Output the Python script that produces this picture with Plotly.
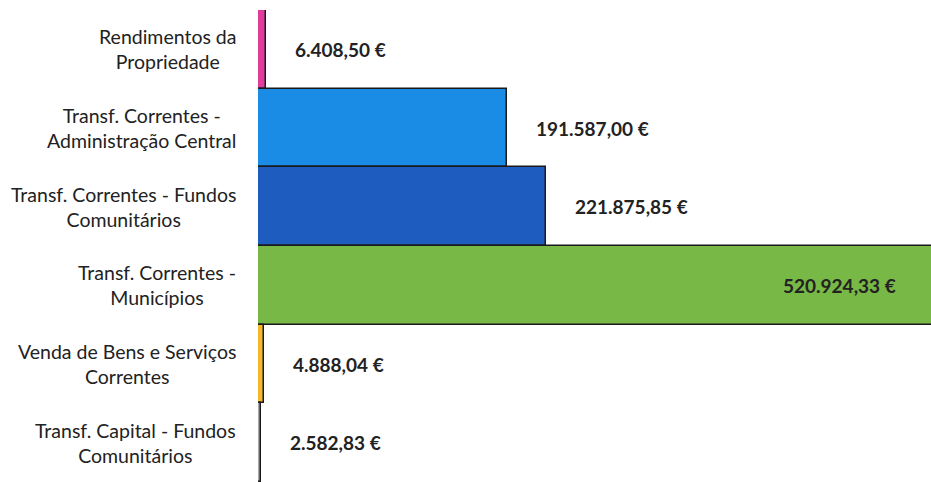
import plotly.graph_objects as go

# categorias (de cima para baixo) e valores em euros
categorias = [
    "Rendimentos da<br>Propriedade",
    "Transf. Correntes -<br>Administração Central",
    "Transf. Correntes - Fundos<br>Comunitários",
    "Transf. Correntes -<br>Municípios",
    "Venda de Bens e Serviços<br>Correntes",
    "Transf. Capital - Fundos<br>Comunitários",
]
valores = [6408.50, 191587.00, 221875.85, 520924.33, 4888.04, 2582.83]
rotulos = ["6.408,50 €", "191.587,00 €", "221.875,85 €", "520.924,33 €", "4.888,04 €", "2.582,83 €"]
cores = ["#e03c9c", "#1a8ce6", "#1f5cbf", "#78b846", "#f5b82a", "#a8a8a8"]

fig = go.Figure(go.Bar(
    x=valores,
    y=categorias,
    orientation="h",
    marker=dict(color=cores, line=dict(color="#1a1a1a", width=1.5)),
    hoverinfo="skip",
))

# rótulos de valor
for cat, v, txt in zip(categorias, valores, rotulos):
    dentro = v > 500000
    fig.add_annotation(
        x=v, y=cat, text="<b>" + txt + "</b>", showarrow=False,
        xanchor="right" if dentro else "left",
        xshift=-37 if dentro else 27,
        font=dict(family="Lato", size=19, color="#222222"),
    )

# nomes das categorias, centrados linha a linha
for cat in categorias:
    fig.add_annotation(
        x=0, xref="paper", y=cat, text=cat, showarrow=False,
        xanchor="right", xshift=-20, align="center",
        font=dict(family="Lato", size=19.5, color="#222222"),
    )

# a figura é mais larga que a janela para a barra verde sair cortada à direita
fig.update_layout(
    width=950, height=482,
    margin=dict(l=258, r=0, t=10, b=0),
    paper_bgcolor="white", plot_bgcolor="white",
    bargap=0,
    showlegend=False,
    xaxis=dict(range=[0, 532400], visible=False),
    yaxis=dict(autorange="reversed", showticklabels=False, showgrid=False,
               zeroline=False, showline=False, ticks=""),
)

# tirar a margem do body e as barras de scroll
fig.write_html("out.html", config={"displayModeBar": False},
               post_script="document.body.style.margin='0';document.body.style.overflow='hidden';")
